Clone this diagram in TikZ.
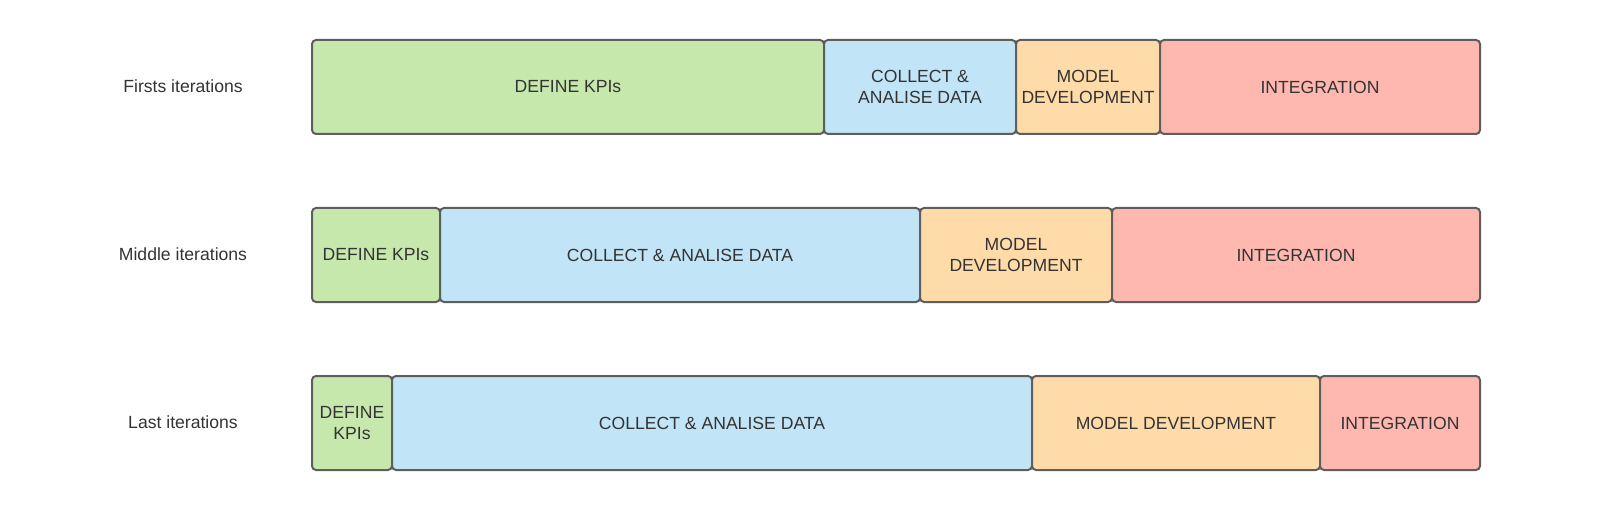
\documentclass[tikz,border=0pt]{standalone}
\usepackage{fontspec}
\setmainfont{Liberation Sans}
\definecolor{kgreen}{HTML}{C7E8AC}
\definecolor{kblue}{HTML}{C1E4F7}
\definecolor{korange}{HTML}{FFDBA9}
\definecolor{kred}{HTML}{FFB8AF}
\definecolor{kborder}{HTML}{5E5E5E}
\definecolor{ktext}{HTML}{333333}
\begin{document}
\begin{tikzpicture}[x=1pt,y=-1pt,
  phase/.style={draw=kborder,line width=2pt,rounded corners=4pt,text=ktext,
    font=\fontsize{17.6}{20.8}\selectfont,align=center,inner sep=0pt},
  rowlabel/.style={text=ktext,font=\fontsize{17.6}{20.8}\selectfont,anchor=center}]
\useasboundingbox (0,0) rectangle (1600,521);
% row 1
\node[rowlabel] (l1) at (183,86) {Firsts iterations};
\path[phase,fill=kgreen]  (312,40) rectangle node (a1) {DEFINE KPIs} (824,134);
\path[phase,fill=kblue]   (824,40) rectangle node (b1) {COLLECT \&\\ANALISE DATA} (1016,134);
\path[phase,fill=korange] (1016,40) rectangle node (c1) {MODEL\\DEVELOPMENT} (1160,134);
\path[phase,fill=kred]    (1160,40) rectangle node (d1) {INTEGRATION} (1480,134);
% row 2
\node[rowlabel] (l2) at (183,254) {Middle iterations};
\path[phase,fill=kgreen]  (312,208) rectangle node (a2) {DEFINE KPIs} (440,302);
\path[phase,fill=kblue]   (440,208) rectangle node (b2) {COLLECT \& ANALISE DATA} (920,302);
\path[phase,fill=korange] (920,208) rectangle node (c2) {MODEL\\DEVELOPMENT} (1112,302);
\path[phase,fill=kred]    (1112,208) rectangle node (d2) {INTEGRATION} (1480,302);
% row 3
\node[rowlabel] (l3) at (183,422) {Last iterations};
\path[phase,fill=kgreen]  (312,376) rectangle node (a3) {DEFINE\\KPIs} (392,470);
\path[phase,fill=kblue]   (392,376) rectangle node (b3) {COLLECT \& ANALISE DATA} (1032,470);
\path[phase,fill=korange] (1032,376) rectangle node (c3) {MODEL DEVELOPMENT} (1320,470);
\path[phase,fill=kred]    (1320,376) rectangle node (d3) {INTEGRATION} (1480,470);
\end{tikzpicture}
\end{document}
